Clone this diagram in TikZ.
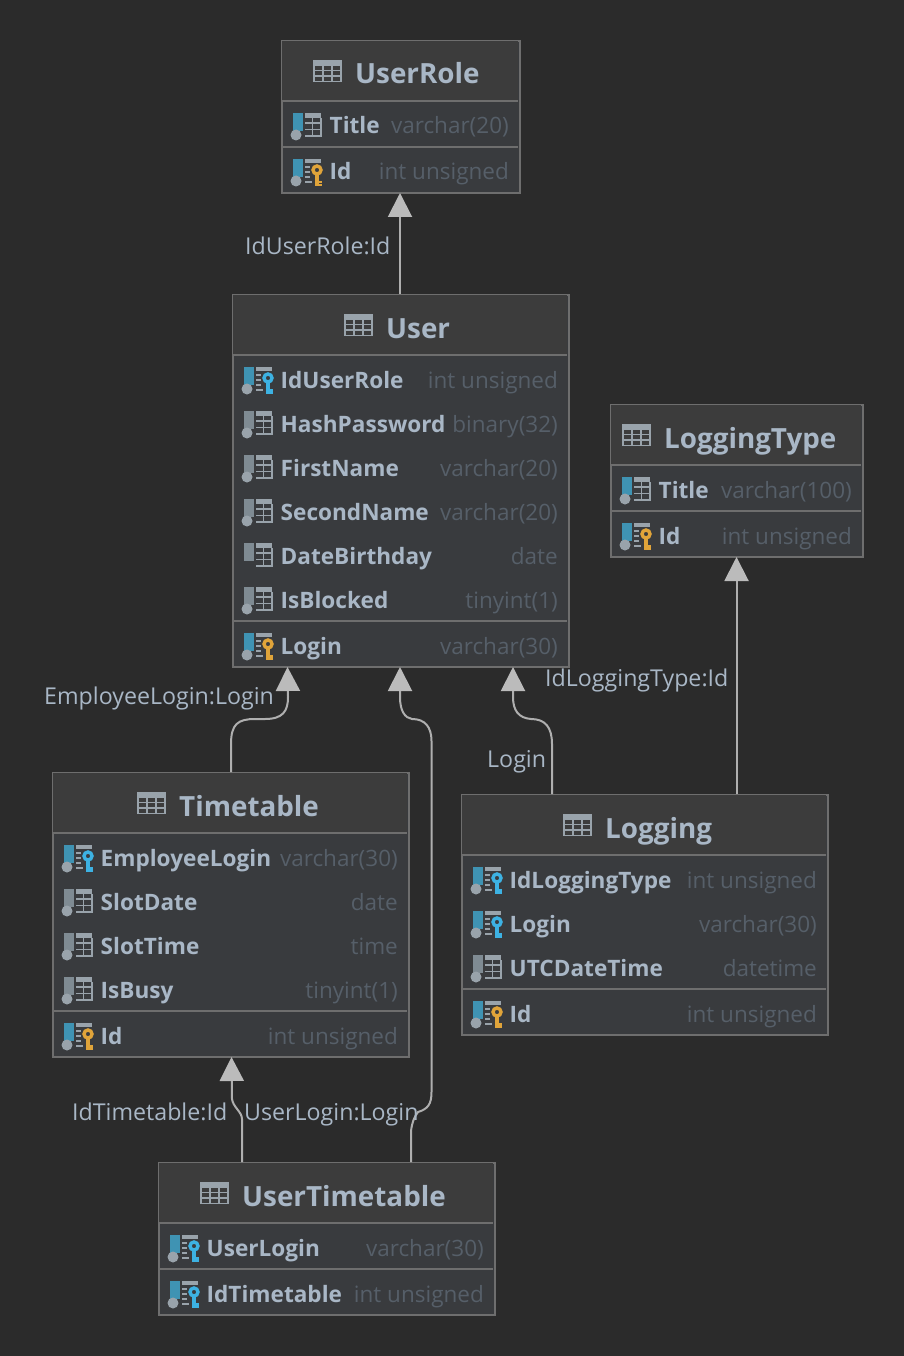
\documentclass[tikz,border=0pt]{standalone}
\usepackage{fontspec}
\setmainfont{Open Sans}
\usetikzlibrary{arrows.meta,calc}
\definecolor{bgc}{HTML}{2B2B2B}
\definecolor{headc}{HTML}{3C3C3C}
\definecolor{rowc}{HTML}{393B3E}
\definecolor{edgec}{HTML}{6E6E6E}
\definecolor{textc}{HTML}{A9B7C6}
\definecolor{typec}{HTML}{565F69}
\definecolor{linec}{HTML}{AFAFAF}
\definecolor{tipc}{HTML}{BBBBBB}
\definecolor{iconc}{HTML}{99A3AB}
\definecolor{barblue}{HTML}{3F93B3}
\definecolor{bargray}{HTML}{7F8B93}
\definecolor{keygold}{HTML}{E0A43A}
\definecolor{keycyan}{HTML}{3DB2E3}
\tikzset{
  x=1pt,y=-1pt,
  tablebox/.style={draw=edgec,line width=1.6pt,fill=rowc,inner sep=0pt,minimum width=0pt},
  sepline/.style={draw=edgec,line width=2pt},
  titletext/.style={text=textc,font=\fontsize{27.8}{28}\selectfont\bfseries,anchor=base west,inner sep=0pt},
  nametext/.style={text=textc,font=\fontsize{22.6}{23}\selectfont\bfseries,anchor=base west,inner sep=0pt},
  typetext/.style={text=typec,font=\fontsize{22.5}{23}\selectfont,anchor=base east,inner sep=0pt},
  edgelabel/.style={text=textc,font=\fontsize{23.2}{23}\selectfont,anchor=base west,inner sep=0pt},
  conn/.style={draw=linec,line width=2pt,-{Triangle[length=24pt,width=24pt,color=tipc]}},
}
% box: name, x0, y0, x1, y1, header bottom, title, title icon x, title text x
\newcommand{\dbbox}[9]{%
  \fill[bgc] (#2,#3) rectangle (#4,#5);
  \node[tablebox,minimum width=#4pt-#2pt,minimum height=#5pt-#3pt,anchor=north west] (#1) at (#2,#3) {};
  \fill[headc] (#2+1,#3+1) rectangle (#4-1,#6+1);
  \draw[sepline] (#2+1,#6+1) -- (#4-1,#6+1);
  \tabicon{#8+1}{#3+31}
  \node[titletext] (#1title) at (#9+1,#3+44) {#7};
}
\newcommand{\tabicon}[2]{%
  \begin{scope}[shift={(#1,#2)}]
    \draw[iconc,line width=1.8pt] (0,-10.5) rectangle (27,10.5);
    \fill[iconc] (0,-11) rectangle (27,-5);
    \draw[iconc,line width=1.6pt] (0,-0.5) -- (27,-0.5) (0,5) -- (27,5) (9,-5) -- (9,10.5) (18,-5) -- (18,10.5);
  \end{scope}}
% row icon: kind p = pk, f = fk, n = plain indexed, d = plain no dot, t = blue plain
\newcommand{\rowicon}[3]{%
  \begin{scope}[shift={(#1,#2)}]
    \if#3d\def\barcol{bargray}\else\if#3n\def\barcol{bargray}\else\def\barcol{barblue}\fi\fi
    \fill[\barcol] (0,-13) rectangle (10,5);
    \if#3d\else
      \fill[iconc] (3,9) circle (5.5);
    \fi
    \if#3p
      \fill[iconc] (12,-13) rectangle (28,-9);
      \draw[iconc,line width=1.7pt] (12,-5) -- (17,-5) (12,0) -- (17,0) (12,5) -- (17,5) (12,10) -- (19,10);
      \keyicon{keygold}
    \else\if#3f
      \fill[iconc] (12,-13) rectangle (28,-9);
      \draw[iconc,line width=1.7pt] (12,-5) -- (17,-5) (12,0) -- (17,0) (12,5) -- (17,5) (12,10) -- (19,10);
      \keyicon{keycyan}
    \else
      \fill[iconc] (12,-13) rectangle (28,-8);
      \draw[iconc,line width=1.8pt] (12,-3) -- (28,-3) (12,3.5) -- (28,3.5) (12,10) -- (28,10) (19.5,-8) -- (19.5,10) (28,-8) -- (28,10.9);
    \fi\fi
  \end{scope}}
\newcommand{\keyicon}[1]{%
  \draw[#1,line width=3.4pt] (24,-2) circle (4);
  \fill[#1] (22.3,3) rectangle (25.7,14);
  \fill[#1] (25,9) rectangle (29,11.5);
  \fill[#1] (25,12) rectangle (29,14);
}
% row: id, box left, box right, centre y, name, type, kind
\newcommand{\dbrow}[7]{%
  \rowicon{#2+12}{#4+1}{#7}
  \node[nametext] (#1n) at (#2+48.5,#4+9) {#5};
  \node[typetext] (#1t) at (#3-10,#4+9) {#6};
}
\begin{document}
\begin{tikzpicture}
\useasboundingbox (1,1) rectangle (905,1357);
\fill[bgc] (0,0) rectangle (906,1358);

% UserRole
\dbbox{UserRole}{282}{41}{520}{193}{101}{UserRole}{314}{355}
\dbrow{urTitle}{282}{520}{126}{Title}{varchar(20)}{t}
\draw[sepline] (283,148) -- (519,148);
\dbrow{urId}{282}{520}{172}{Id}{int unsigned}{p}

% User
\dbbox{User}{233}{295}{569}{667}{355}{User}{345}{386}
\dbrow{uA}{233}{569}{380}{IdUserRole}{int unsigned}{f}
\dbrow{uB}{233}{569}{424}{HashPassword}{binary(32)}{n}
\dbrow{uC}{233}{569}{468}{FirstName}{varchar(20)}{n}
\dbrow{uD}{233}{569}{512}{SecondName}{varchar(20)}{n}
\dbrow{uE}{233}{569}{556}{DateBirthday}{date}{d}
\dbrow{uF}{233}{569}{600}{IsBlocked}{tinyint(1)}{n}
\draw[sepline] (234,622) -- (568,622);
\dbrow{uG}{233}{569}{646}{Login}{varchar(30)}{p}

% LoggingType
\dbbox{LoggingType}{611}{405}{863}{557}{465}{LoggingType}{623}{664}
\dbrow{ltA}{611}{863}{490}{Title}{varchar(100)}{t}
\draw[sepline] (612,512) -- (862,512);
\dbrow{ltB}{611}{863}{536}{Id}{int unsigned}{p}

% Timetable
\dbbox{Timetable}{53}{773}{409}{1057}{833}{Timetable}{138}{179}
\dbrow{tA}{53}{409}{858}{EmployeeLogin}{varchar(30)}{f}
\dbrow{tB}{53}{409}{902}{SlotDate}{date}{n}
\dbrow{tC}{53}{409}{946}{SlotTime}{time}{n}
\dbrow{tD}{53}{409}{990}{IsBusy}{tinyint(1)}{n}
\draw[sepline] (54,1012) -- (408,1012);
\dbrow{tE}{53}{409}{1036}{Id}{int unsigned}{p}

% Logging
\dbbox{Logging}{462}{795}{828}{1035}{855}{Logging}{564}{605}
\dbrow{lA}{462}{828}{880}{IdLoggingType}{int unsigned}{f}
\dbrow{lB}{462}{828}{924}{Login}{varchar(30)}{f}
\dbrow{lC}{462}{828}{968}{UTCDateTime}{datetime}{n}
\draw[sepline] (463,990) -- (827,990);
\dbrow{lD}{462}{828}{1014}{Id}{int unsigned}{p}

% UserTimetable
\dbbox{UserTimetable}{159}{1163}{495}{1315}{1223}{UserTimetable}{201}{242}
\dbrow{utA}{159}{495}{1248}{UserLogin}{varchar(30)}{f}
\draw[sepline] (160,1270) -- (494,1270);
\dbrow{utB}{159}{495}{1294}{IdTimetable}{int unsigned}{f}

% Connector anchors
\coordinate (UserIn1) at (288.5,668);
\coordinate (UserIn2) at (401,668);
\coordinate (UserIn3) at (514,668);

% Connectors
\draw[conn] (User.north -| 401,0) -- (401,194);
\draw[conn] (Timetable.north -| 232,0) -- (232,745)
  .. controls (232,725) and (239,720) .. (256,720) -- (266,720)
  .. controls (284,720) and (289,712) .. (289,698) -- (UserIn1);
\draw[conn] (UserTimetable.north -| 412,0) -- (412,1132)
  .. controls (413,1124) and (415,1118) .. (419,1113)
  .. controls (429,1110) and (432.5,1105) .. (432.5,1093) -- (432.5,742)
  .. controls (432.5,728) and (426,720) .. (413,720)
  .. controls (406,719) and (401,712) .. (401,698) -- (UserIn2);
\draw[conn] (Logging.north -| 553,0) -- (553,745)
  .. controls (553,728) and (546,720) .. (532,720)
  .. controls (520,719) and (514,712) .. (514,698) -- (UserIn3);
\draw[conn] (Logging.north -| 737.5,0) -- (737.5,558);
\draw[conn] (UserTimetable.north -| 243,0) -- (243,1120)
  .. controls (243,1113) and (234,1108) .. (233,1100) -- (232.5,1058);

% Labels
\node[edgelabel] (L1) at (246,255.5) {IdUserRole:Id};
\node[edgelabel] (L2) at (45,705.5) {EmployeeLogin:Login};
\node[edgelabel] (L3) at (546,687.5) {IdLoggingType:Id};
\node[edgelabel] (L4) at (488,768.5) {Login};
\node[edgelabel] (L5) at (73,1121.5) {IdTimetable:Id};
\node[edgelabel] (L6) at (245,1121.5) {UserLogin:Login};
\end{tikzpicture}
\end{document}
